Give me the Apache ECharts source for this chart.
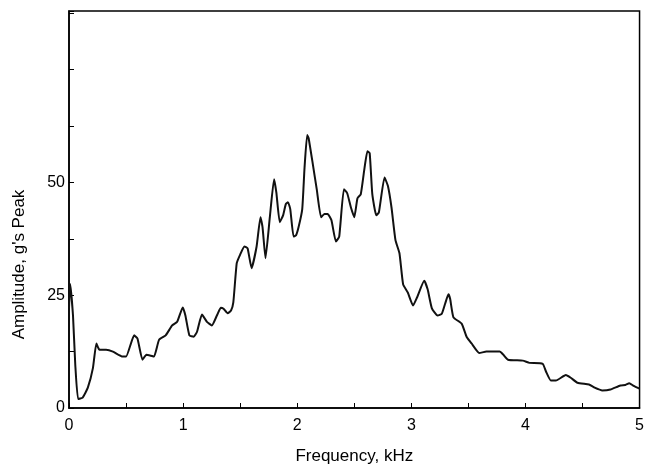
<!DOCTYPE html>
<html>
<head>
<meta charset="utf-8">
<script src="https://cdn.jsdelivr.net/npm/echarts@6/dist/echarts.min.js"></script>
<style>
  html, body { margin: 0; padding: 0; background: #fff; }
  #chart { width: 647px; height: 470px; }
</style>
</head>
<body>
<div id="chart"></div>
<script>
// Vibration response spectrum: frequency (kHz) vs peak amplitude (g's)
const freqKHz = [
  0, 0.01, 0.035, 0.055, 0.08, 0.12, 0.165, 0.21, 0.24, 0.267, 0.325, 0.385, 0.47, 0.5,
  0.571, 0.6, 0.644, 0.678, 0.716, 0.745, 0.789, 0.847, 0.904, 0.948, 0.997, 1.02,
  1.055, 1.093, 1.122, 1.165, 1.209, 1.252, 1.296, 1.33, 1.354, 1.39, 1.42, 1.44,
  1.47, 1.5, 1.537, 1.565, 1.6, 1.644, 1.678, 1.696, 1.722, 1.76, 1.797, 1.817,
  1.847, 1.876, 1.9, 1.919, 1.939, 1.968, 1.99, 2.012, 2.044, 2.064, 2.087, 2.1,
  2.137, 2.171, 2.209, 2.238, 2.267, 2.3, 2.339, 2.368, 2.409, 2.438, 2.47, 2.5,
  2.528, 2.557, 2.586, 2.615, 2.635, 2.658, 2.693, 2.716, 2.765, 2.795, 2.826,
  2.861, 2.896, 2.928, 2.969, 3.015, 3.05, 3.113, 3.143, 3.18, 3.23, 3.267, 3.296,
  3.325, 3.34, 3.369, 3.441, 3.484, 3.528, 3.595, 3.658, 3.774, 3.803, 3.847,
  3.977, 4.035, 4.151, 4.18, 4.223, 4.267, 4.354, 4.397, 4.456, 4.557, 4.6, 4.673,
  4.745, 4.832, 4.876, 4.91, 4.948, 5.0
];
const amplitudeG = [
  22, 27.5, 20.5, 9.6, 2.0, 2.3, 4.5, 8.9, 14.3, 12.9, 12.9, 12.5, 11.4, 11.4,
  16.1, 15.4, 10.7, 11.8, 11.6, 11.4, 15.1, 16.1, 18.3, 19.1, 22.3, 20.5,
  16.1, 15.8, 16.9, 20.7, 19.1, 18.3, 20.5, 22.2, 22.0, 21.0, 21.6, 23.4,
  32.1, 34.0, 35.8, 35.4, 31.0, 35.8, 42.3, 40.1, 33.2, 42.3, 50.7, 47.8,
  41.2, 42.7, 45.2, 45.6, 44.1, 38.0, 38.3, 40.1, 44.1, 53.2, 60.5, 59.8,
  54.0, 48.5, 42.3, 43.0, 43.0, 41.6, 36.9, 38.0, 48.5, 47.6, 44.5, 42.3,
  46.5, 47.4, 52.5, 56.9, 56.5, 47.4, 42.7, 43.4, 51.1, 49.2, 44.5,
  37.2, 34.3, 27.4, 25.6, 22.7, 24.5, 28.2, 26.3, 22.1, 20.5, 20.9, 23.1,
  25.2, 24.2, 20.1, 18.7, 15.8, 14.3, 12.2, 12.5, 12.5, 11.9, 10.7,
  10.5, 10.0, 9.8, 8.1, 6.1, 6.1, 7.3, 6.7, 5.6, 5.2, 4.6, 3.9,
  4.1, 5.0, 5.1, 5.5, 4.9, 4.3
];
const yTickLabels = [0, 25, 50];
const xTickLabels = [0, 1, 2, 3, 4, 5];

const points = freqKHz.map((f, i) => [f, amplitudeG[i]]);
const FONT = 'Liberation Sans, Arial, Helvetica, sans-serif';

const chart = echarts.init(document.getElementById('chart'), null, { renderer: 'canvas' });
chart.setOption({
  backgroundColor: '#fff',
  animation: false,
  grid: {
    left: 69, right: 3, top: 11, bottom: 56,
    show: true, borderColor: '#000', borderWidth: 1.5, backgroundColor: 'transparent'
  },
  xAxis: {
    type: 'value', min: 0, max: 5, interval: 0.5,
    name: 'Frequency, kHz', nameLocation: 'middle', nameGap: 40,
    nameTextStyle: { fontFamily: FONT, fontSize: 17, color: '#000' },
    axisLine: { show: true, lineStyle: { color: '#000', width: 1.5 } },
    axisTick: { show: true, inside: true, length: 5, lineStyle: { color: '#000', width: 1 } },
    axisLabel: {
      fontFamily: FONT, fontSize: 16, color: '#000', margin: 10,
      formatter: v => (xTickLabels.indexOf(v) >= 0 ? String(v) : '')
    },
    splitLine: { show: false }
  },
  yAxis: {
    type: 'value', min: 0, max: 88, interval: 12.5,
    name: "Amplitude, g's Peak", nameLocation: 'middle', nameGap: 41, nameRotate: 90,
    nameTextStyle: { fontFamily: FONT, fontSize: 17, color: '#000', padding: [0, 0, 0, -110] },
    axisLine: { show: true, lineStyle: { color: '#000', width: 1.5 } },
    axisTick: { show: true, inside: true, length: 5, lineStyle: { color: '#000', width: 1 } },
    axisLabel: {
      fontFamily: FONT, fontSize: 16, color: '#000', margin: 4,
      formatter: v => (yTickLabels.indexOf(v) >= 0 ? String(v) : '')
    },
    splitLine: { show: false }
  },
  series: [{
    type: 'line',
    data: points,
    showSymbol: false,
    smooth: 0.15,
    lineStyle: { color: '#111', width: 2 }
  }]
});
</script>
</body>
</html>
